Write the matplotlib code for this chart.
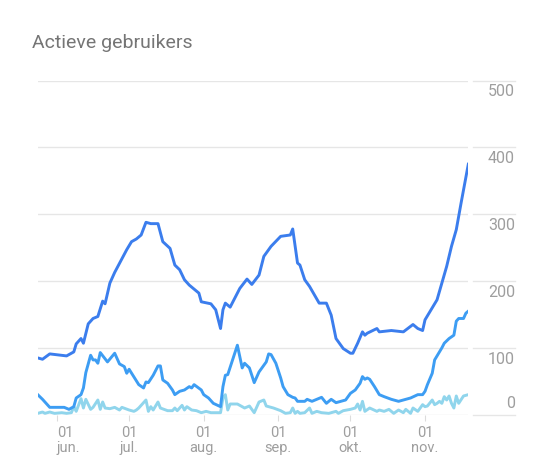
import matplotlib
matplotlib.use("Agg")
import matplotlib.pyplot as plt
import matplotlib.transforms as mtransforms
import matplotlib.dates as mdates
import numpy as np
import pandas as pd

plt.rcParams['font.family'] = ['Roboto', 'DejaVu Sans']

# data: day offset from the first day, value
start = pd.Timestamp("2020-05-24")

days_30d = [0, 2, 5, 12, 15, 16, 18, 19, 21, 23, 25, 27, 28, 30, 32, 37, 39, 41, 43, 45,
            47, 50, 52, 55, 57, 59, 61, 63, 67, 68, 72, 74, 76, 77, 78, 80, 84, 87, 89, 92,
            94, 97, 101, 105, 106, 108, 109, 111, 113, 117, 120, 122, 124, 127, 130, 131,
            133, 135, 136, 137, 141, 142, 147, 152, 156, 158, 160, 161, 163, 166, 168, 170,
            172, 174, 176, 179]
users_30d = [85, 83, 91, 88, 94, 106, 114, 107, 136, 144, 147, 170, 166, 197, 213, 247, 259,
             263, 269, 288, 286, 286, 259, 249, 224, 217, 202, 194, 182, 169, 166, 157, 129,
             157, 167, 161, 189, 203, 195, 209, 237, 252, 267, 269, 278, 227, 224, 202, 192,
             167, 167, 149, 114, 99, 92, 92, 107, 124, 119, 122, 129, 124, 126, 124, 135,
             129, 126, 142, 154, 172, 197, 222, 252, 277, 317, 375]

days_7d = [0, 2, 5, 11, 13, 15, 16, 18, 19, 20, 22, 23, 24, 25, 26, 29, 32, 34, 36, 37, 38,
           42, 44, 45, 46, 48, 50, 51, 52, 54, 55, 56, 57, 59, 61, 63, 64, 65, 68, 69, 71,
           73, 76, 77, 78, 79, 83, 85, 86, 88, 90, 92, 95, 96, 97, 99, 101, 102, 104, 106,
           107, 108, 111, 112, 114, 116, 118, 120, 122, 124, 126, 128, 130, 132, 134, 135,
           136, 137, 138, 140, 142, 144, 147, 150, 152, 155, 158, 160, 161, 162, 164, 165,
           167, 168, 169, 171, 173, 174, 175, 177, 178, 179]
users_7d = [30, 23, 11, 11, 8, 12, 25, 30, 40, 63, 89, 82, 82, 77, 93, 79, 92, 76, 72, 62,
            68, 45, 40, 49, 48, 59, 73, 73, 52, 47, 42, 37, 30, 35, 37, 42, 40, 45, 37, 30,
            25, 17, 12, 42, 59, 60, 104, 70, 77, 70, 48, 64, 79, 91, 90, 77, 55, 42, 30, 26,
            25, 20, 20, 23, 20, 23, 26, 17, 23, 18, 20, 22, 32, 37, 47, 57, 53, 55, 53, 42,
            30, 27, 23, 20, 22, 25, 30, 30, 35, 45, 62, 82, 94, 100, 107, 114, 119, 140,
            144, 144, 152, 155]

days_1d = [0, 2, 3, 5, 7, 10, 12, 14, 15, 16, 18, 19, 20, 22, 23, 25, 26, 27, 28, 30, 32,
           34, 35, 38, 40, 41, 42, 45, 46, 47, 48, 50, 51, 54, 56, 57, 58, 60, 61, 62, 64,
           66, 68, 70, 72, 76, 77, 78, 79, 80, 83, 85, 86, 88, 90, 91, 92, 94, 95, 98, 101,
           103, 105, 106, 107, 108, 109, 111, 113, 114, 116, 118, 121, 124, 125, 127, 130,
           132, 133, 134, 135, 136, 138, 141, 142, 144, 146, 148, 150, 152, 153, 155, 156,
           158, 160, 161, 162, 164, 165, 166, 167, 168, 169, 170, 171, 172, 173, 174, 175,
           177, 179]
users_1d = [2, 4, 2, 4, 2, 3, 2, 3, 12, 5, 24, 10, 23, 8, 11, 22, 8, 19, 10, 9, 11, 7, 11,
            7, 5, 7, 10, 22, 5, 12, 7, 19, 10, 6, 6, 10, 6, 14, 7, 12, 7, 6, 3, 5, 3, 3, 25,
            30, 7, 16, 16, 12, 10, 13, 3, 11, 19, 22, 13, 10, 6, 2, 3, 10, 2, 5, 2, 3, 10, 2,
            5, 3, 2, 5, 2, 6, 8, 10, 16, 7, 20, 5, 10, 5, 7, 5, 8, 2, 7, 3, 8, 2, 10, 5, 15,
            12, 13, 22, 15, 17, 20, 17, 27, 22, 28, 17, 10, 28, 17, 28, 30]

y_ticks = [0, 100, 200, 300, 400, 500]
month_starts = ["2020-06-01", "2020-07-01", "2020-08-01", "2020-09-01", "2020-10-01", "2020-11-01"]
month_names = ["jun.", "jul.", "aug.", "sep.", "okt.", "nov."]

def to_dates(days):
    return start + pd.to_timedelta(days, unit="D")

fig = plt.figure(figsize=(5.45, 4.76), dpi=100)
ax = fig.add_axes([0.0692, 0.1288, 0.7901, 0.7017])

grid_col = "#e6e6e6"
text_col = "#9e9e9e"
for v in y_ticks:
    ax.axhline(v, color=grid_col, lw=1.0, zorder=0)

ax.plot(to_dates(days_1d), users_1d, color="#90d5ec", lw=2.1, zorder=2)
ax.plot(to_dates(days_7d), users_7d, color="#3d9df3", lw=2.1, zorder=3)
ax.plot(to_dates(days_30d), users_30d, color="#3b7ded", lw=2.1, zorder=4)

ax.set_xlim(start, start + pd.Timedelta(days=179))
ax.set_ylim(0, 500)
for s in ax.spines.values():
    s.set_visible(False)
ax.set_yticks([])
ax.set_xticks(pd.to_datetime(month_starts))
ax.set_xticklabels([])
ax.tick_params(axis="x", length=4.5, width=0.8, color="#dcdcdc")

# month labels under the ticks
trans = mtransforms.blended_transform_factory(ax.transData, ax.transAxes)
for i, (m, name) in enumerate(zip(pd.to_datetime(month_starts), month_names)):
    ha = "left" if i == 0 else "center"
    ax.annotate("01\n" + name, xy=(mdates.date2num(m), 0), xycoords=trans, xytext=(0, -8.5),
                textcoords="offset points", ha=ha, va="top", fontsize=10.5,
                color=text_col, linespacing=1.05)

# value axis on the right, with short grid pieces
rtrans = mtransforms.blended_transform_factory(ax.transAxes, ax.transData)
for v in y_ticks:
    ax.plot([1.0116, 1.1085], [v, v], transform=rtrans, color=grid_col, lw=1.0,
            clip_on=False)
    dy = 8 if v == 0 else -8
    ax.annotate(str(v), xy=(1.1085, v), xycoords=rtrans, xytext=(0, dy),
                textcoords="offset points", ha="right", va="center", fontsize=11.5,
                color=text_col)

fig.text(32 / 545, 1 - 48.3 / 476, "Actieve gebruikers", fontsize=14, color="#757575",
         ha="left", va="baseline")

fig.savefig("out.png", dpi=100)
